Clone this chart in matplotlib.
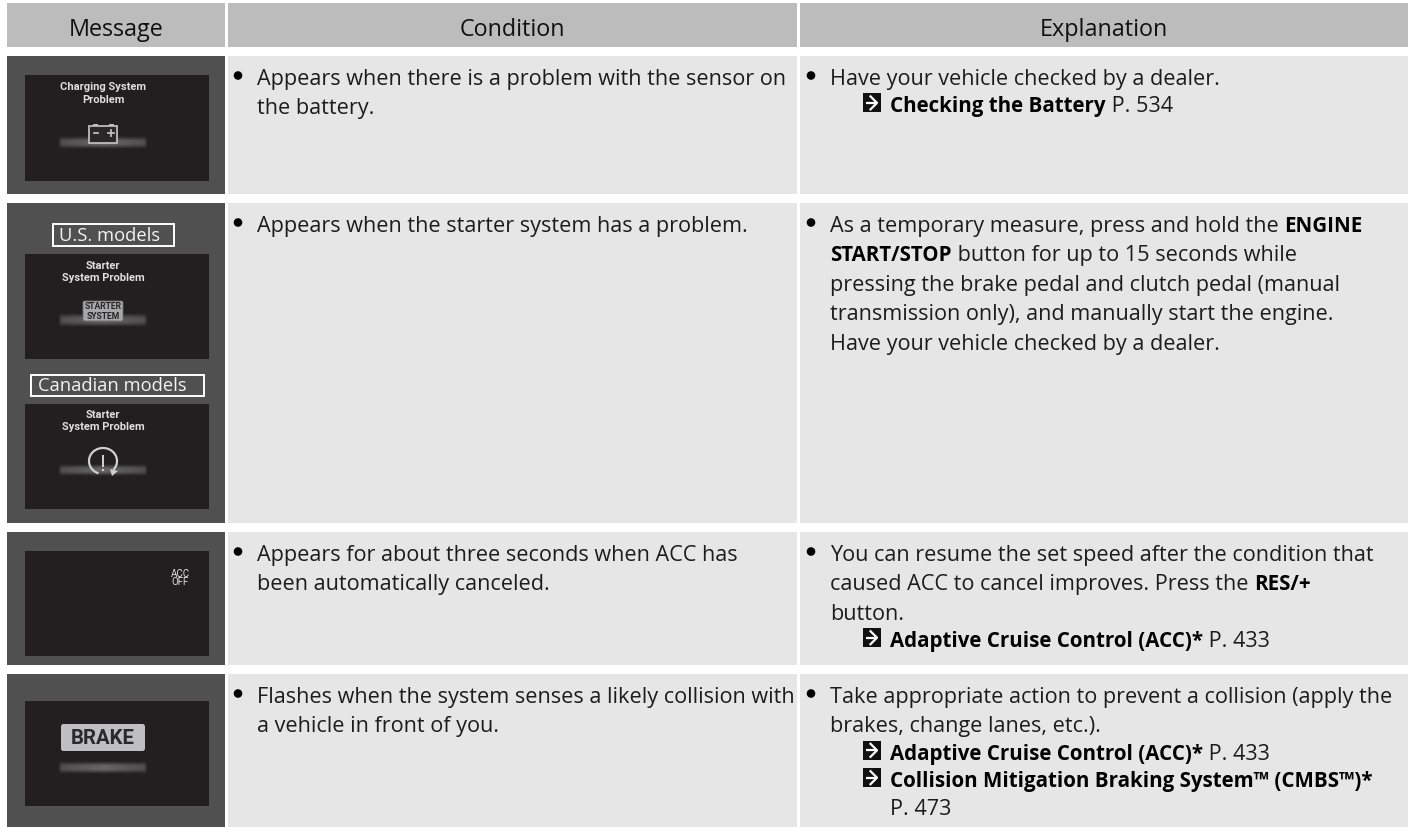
import numpy as np
import matplotlib
matplotlib.use("Agg")
import matplotlib.pyplot as plt
from matplotlib.patches import Rectangle, FancyBboxPatch, Circle, Arc, Polygon

FONT = "Open Sans"
FS = 15.6
BOLD_FS = 14.8
HEAD_FS = 16.8
LABEL_FS = 13.2
LH = 29.4
LH_REF = 27.4

HEADERS = ["Message", "Condition", "Explanation"]
COL_X = [(7, 225), (228, 797), (800, 1408)]
HEAD_Y = (4, 48)
ROW_Y = [(57, 195), (204, 524), (533, 666), (675, 828)]
FIRST_LINE = [85, 232, 561, 703]

CONDITION = [
    [("b", [("Appears when there is a problem with the sensor on", False)]),
     ("t", [("the battery.", False)])],
    [("b", [("Appears when the starter system has a problem.", False)])],
    [("b", [("Appears for about three seconds when ACC has", False)]),
     ("t", [("been automatically canceled.", False)])],
    [("b", [("Flashes when the system senses a likely collision with", False)]),
     ("t", [("a vehicle in front of you.", False)])],
]
EXPLANATION = [
    [("b", [("Have your vehicle checked by a dealer.", False)]),
     ("r", [("Checking the Battery", True), (" P. 534", False)])],
    [("b", [("As a temporary measure, press and hold the ", False), ("ENGINE", True)]),
     ("t", [("START/STOP", True), (" button for up to 15 seconds while", False)]),
     ("t", [("pressing the brake pedal and clutch pedal (manual", False)]),
     ("t", [("transmission only), and manually start the engine.", False)]),
     ("t", [("Have your vehicle checked by a dealer.", False)])],
    [("b", [("You can resume the set speed after the condition that", False)]),
     ("t", [("caused ACC to cancel improves. Press the ", False), ("RES/+", True)]),
     ("t", [("button.", False)]),
     ("r", [("Adaptive Cruise Control (ACC)*", True), (" P. 433", False)])],
    [("b", [("Take appropriate action to prevent a collision (apply the", False)]),
     ("t", [("brakes, change lanes, etc.).", False)]),
     ("r", [("Adaptive Cruise Control (ACC)*", True), (" P. 433", False)]),
     ("r", [("Collision Mitigation Braking System\u2122 (CMBS\u2122)*", True)]),
     ("p", [("P. 473", False)])],
]

SCREEN_X = (25, 209)
SCREENS_Y = [(76, 182), (255, 360), (405, 510), (552, 657), (702, 807)]
GLOW_Y = [(137, 150), (315, 328), (465, 477), (762, 775)]
MODEL_LABELS = [("U.S. models", 53, 174, 225, 247, 110, 241),
                ("Canadian models", 31, 204, 376, 397, 112, 391)]

fig = plt.figure(figsize=(14.08, 8.28), dpi=100, facecolor="white")
ax = fig.add_axes([0, 0, 1, 1])
ax.set_xlim(0, 1408)
ax.set_ylim(828, 0)
ax.axis("off")
fig.canvas.draw()
rend = fig.canvas.get_renderer()


def rect(x0, x1, y0, y1, color, z=1, **kw):
    ax.add_patch(Rectangle((x0, y0), x1 - x0, y1 - y0, fc=color, ec="none", zorder=z, **kw))


def segs(x, y, parts, color="#1c1c1c"):
    for s, bold in parts:
        size = BOLD_FS if bold else FS
        ax.text(x, y, s, family=FONT, fontsize=size, va="baseline", ha="left",
                fontweight="bold" if bold else "normal",
                color="black" if bold else color, zorder=6)
        probe = ax.text(0, 0, s.replace(" ", "\u00a0"), family=FONT, fontsize=size,
                        fontweight="bold" if bold else "normal")
        x += probe.get_window_extent(rend).width
        probe.remove()


def ref_icon(x, y):
    rect(x, x + 18, y - 18, y + 1, "#111111", z=6)
    ax.plot([x + 3, x + 14], [y - 8.5, y - 8.5], color="white", lw=1.6, zorder=7, solid_capstyle="butt")
    ax.plot([x + 8, x + 14.5, x + 8], [y - 15, y - 8.5, y - 2], color="white", lw=1.6, zorder=7)


def draw_col(rows, x_text):
    for lines, y0 in zip(rows, FIRST_LINE):
        y = y0
        for i, (kind, parts) in enumerate(lines):
            if kind == "b":
                ax.add_patch(Circle((x_text - 19, y - 8.5), 4.3, fc="black", ec="none", zorder=6))
                segs(x_text, y, parts)
            elif kind == "t":
                segs(x_text, y, parts)
            elif kind == "r":
                ref_icon(x_text + 32.5, y)
                segs(x_text + 60, y, parts)
            else:
                segs(x_text + 60, y, parts)
            nxt = lines[i + 1][0] if i + 1 < len(lines) else "t"
            y += LH_REF if nxt in ("r", "p") else LH


for name, (x0, x1) in zip(HEADERS, COL_X):
    rect(x0, x1, HEAD_Y[0], HEAD_Y[1], "#bcbcbc")
    ax.text((x0 + x1) / 2, 36, name, family=FONT, fontsize=HEAD_FS, ha="center", va="baseline",
            color="#111111", zorder=6)
for (y0, y1) in ROW_Y:
    rect(*COL_X[0], y0, y1, "#505050")
    rect(*COL_X[1], y0, y1, "#e6e6e6")
    rect(*COL_X[2], y0, y1, "#e6e6e6")

draw_col(CONDITION, 257)
draw_col(EXPLANATION, 830)

for y0, y1 in SCREENS_Y:
    rect(*SCREEN_X, y0, y1, "#231f20", z=2)

yy, xx = np.mgrid[0:1:40j, 0:1:200j]
alpha = np.clip(np.minimum(xx, 1 - xx) / 0.04, 0, 1) * np.clip(np.minimum(yy, 1 - yy) / 0.35, 0, 1)
vals = 0.30 + 0.10 * (1 - np.abs(xx - 0.5) * 2)
rgba = np.dstack([vals, vals, vals, alpha])
for y0, y1 in GLOW_Y:
    ax.imshow(rgba, extent=(58, 148, y1, y0), aspect="auto", zorder=3, interpolation="bilinear")
ax.set_xlim(0, 1408)
ax.set_ylim(828, 0)


def screen_text(x, y, s, size=8.0, color="#dedede", weight="bold", **kw):
    ax.text(x, y, s, family="Roboto", fontsize=size, ha="center", va="center",
            color=color, fontweight=weight, zorder=6, **kw)


screen_text(103, 87, "Charging System")
screen_text(103, 100, "Problem")
screen_text(103, 266, "Starter")
screen_text(103, 278, "System Problem")
screen_text(103, 415, "Starter")
screen_text(103, 427, "System Problem")
screen_text(180, 574, "ACC", size=7, weight="normal")
screen_text(180, 582, "OFF", size=7, weight="normal")

ICON = "#bdbdbd"
# battery icon
ax.add_patch(Rectangle((88.5, 127), 28.5, 17, fc="#2a2728", ec=ICON, lw=1.3, zorder=5))
rect(93, 98, 125, 127, ICON, z=5)
rect(109, 114, 125, 127, ICON, z=5)
ax.plot([94, 98], [134, 134], color=ICON, lw=1.3, zorder=6)
ax.plot([108, 114], [134, 134], color=ICON, lw=1.3, zorder=6)
ax.plot([111, 111], [131, 137], color=ICON, lw=1.3, zorder=6)

# starter badge
ax.add_patch(FancyBboxPatch((83, 302), 40, 20, boxstyle="round,pad=0,rounding_size=1.5",
                            fc="#a8a8aa", ec="#6a6a6a", lw=0.6, zorder=5))
screen_text(103, 307, "STARTER", size=6.2, color="#262626")
screen_text(103, 317, "SYSTEM", size=6.2, color="#262626")

# restart icon
ax.add_patch(Arc((103, 462), 28, 26, theta1=110, theta2=400, ec="#cfcfcf", lw=1.6, zorder=6))
ax.add_patch(Polygon([(110, 470), (118, 472), (112, 477)], fc="#cfcfcf", ec="none", zorder=6))
rect(101.8, 104.4, 456, 467.5, "#cfcfcf", z=6)
rect(101.8, 104.4, 469.5, 472, "#cfcfcf", z=6)

# BRAKE badge
ax.add_patch(FancyBboxPatch((61, 725), 84, 27, boxstyle="round,pad=0,rounding_size=2.5",
                            fc="#bfbfc3", ec="none", zorder=5))
screen_text(103, 738.5, "BRAKE", size=14.6, color="#2a2a2e", weight="bold")

for s, x0, x1, y0, y1, tx, ty in MODEL_LABELS:
    ax.add_patch(Rectangle((x0, y0), x1 - x0, y1 - y0, fc="none", ec="white", lw=1.4, zorder=5))
    ax.text(tx, ty, s, family=FONT, fontsize=LABEL_FS, ha="center", va="baseline",
            color="#f2f2f2", zorder=6)

fig.savefig("out.png", dpi=100, facecolor="white")
